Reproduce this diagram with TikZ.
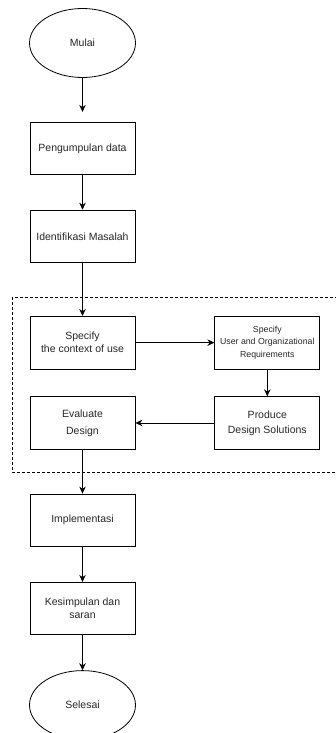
\documentclass[tikz,border=0pt]{standalone}
\usepackage{fontspec}
\setmainfont{Liberation Sans}
\usetikzlibrary{positioning,arrows.meta,shapes.geometric}

\begin{document}
\begin{tikzpicture}[
    x=1pt,y=-1pt,
    font=\fontsize{10.5}{13}\selectfont,
    base/.style={draw,line width=0.8pt,align=center,inner sep=2pt,text=black!85},
    terminal/.style={base,ellipse,minimum width=106pt,minimum height=69pt},
    process/.style={base,rectangle,minimum width=105pt,minimum height=52.5pt},
    smalltext/.style={font=\fontsize{8.75}{12.5}\selectfont},
    flow/.style={draw,line width=0.8pt,-{Stealth[length=7pt,width=6.5pt]}},
    group/.style={draw,dash pattern=on 3pt off 2pt,line width=0.6pt}
  ]
  \useasboundingbox (0,0) rectangle (335,733);

  \node(start) [terminal] at (82.5,43) {Mulai};
  \node(collect) [process,below=44pt of start] {Pengumpulan data};
  \node(ident) [process,below=34.5pt of collect] {Identifikasi Masalah};

  \node(ctx) [process,below=53pt of ident] {Specify\\the context of use};
  \node(req) [process,smalltext,right=79pt of ctx] {Specify\\User and Organizational\\Requirements};
  \node(prod) [process,below=27pt of req] {Produce\\[2pt]Design Solutions};
  \node(eval) [process,below=27pt of ctx] {Evaluate\\[4pt]Design};

  \node(impl) [process,below=44pt of eval] {Implementasi};
  \node(concl) [process,below=35pt of impl] {Kesimpulan dan\\saran};
  \node(stop) [terminal,below=35pt of concl] {Selesai};

  % UCD cycle
  \draw[group] (12,297) rectangle (345,472);

  \draw[flow,shorten >=10pt] (start) -- (collect);
  \draw[flow] (collect) -- (ident);
  \draw[flow] (ident) -- (ctx);
  \draw[flow] (ctx) -- (req);
  \draw[flow] (req) -- (prod);
  \draw[flow] (prod) -- (eval);
  \draw[flow] (eval) -- (impl);
  \draw[flow] (impl) -- (concl);
  \draw[flow] (concl) -- (stop);

\end{tikzpicture}
\end{document}
